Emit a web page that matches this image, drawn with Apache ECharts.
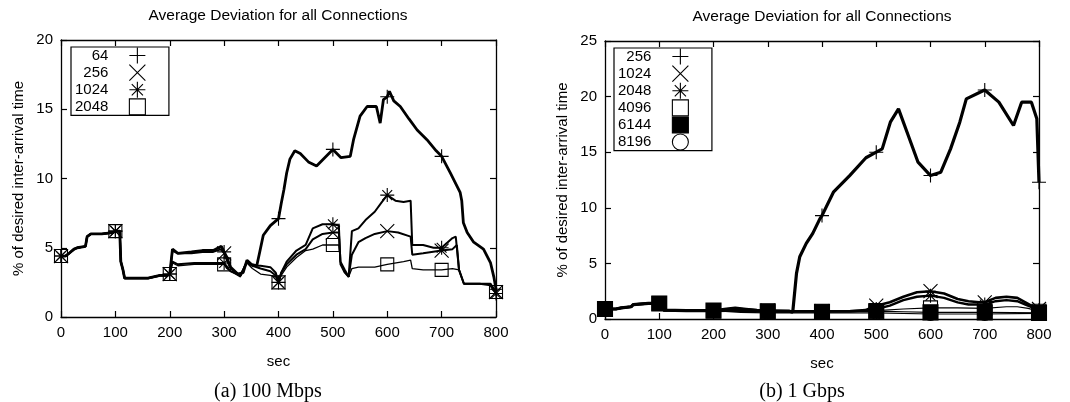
<!DOCTYPE html>
<html><head><meta charset="utf-8">
<script src="https://cdn.jsdelivr.net/npm/echarts@6/dist/echarts.min.js"></script>
<style>html,body{margin:0;padding:0;background:#fff}#c{width:1070px;height:402px}</style>
</head><body><div id="c"></div>
<script>
// ---------- data ----------
const chartTitles = ['Average Deviation for all Connections', 'Average Deviation for all Connections'];
const captions = ['(a) 100 Mbps', '(b) 1 Gbps'];
const xName = 'sec';
const yName = '% of desired inter-arrival time';
const xTicks = [0, 100, 200, 300, 400, 500, 600, 700, 800];
const yTicksA = [0, 5, 10, 15, 20];
const yTicksB = [0, 5, 10, 15, 20, 25];
const namesA = ['64', '256', '1024', '2048'];
const namesB = ['256', '1024', '2048', '4096', '6144', '8196'];

// (a) 100 Mbps: all series share the first 200 s
const startA = [[0,4.4],[8,4.4],[15,4.6],[24,4.9],[30,5.0],[45,5.1],[48,5.8],[55,6.0],[75,6.0],[95,6.1],[100,6.2],[108,6.2],[110,4.0],[114,3.4],[117,2.8],[140,2.8],[160,2.8],[182,3.0],[195,3.0],[200,3.1]];
const a64 = startA.concat([[205,4.9],[215,4.6],[240,4.7],[260,4.8],[280,4.8],[295,5.1],[300,4.7],[305,4.3],[312,3.6],[325,3.1],[335,3.2],[342,4.1],[350,3.8],[360,3.7],[365,4.6],[372,5.9],[385,6.6],[400,7.1],[405,8.2],[410,9.2],[415,10.4],[421,11.4],[430,12.0],[440,11.8],[455,11.2],[470,10.9],[485,11.5],[500,12.1],[515,11.5],[532,11.6],[538,12.8],[550,14.5],[563,15.2],[580,15.2],[587,14.0],[593,15.7],[600,15.9],[604,16.3],[612,15.6],[624,15.2],[640,14.3],[655,13.5],[673,12.8],[690,12.0],[700,11.6],[716,10.4],[734,9.0],[737,8.4],[740,6.8],[747,6.1],[759,5.4],[777,4.9],[790,3.9],[796,2.9],[800,2.0]]);
const a256 = startA.concat([[205,4.8],[215,4.6],[240,4.6],[260,4.7],[280,4.7],[295,4.9],[300,4.6],[305,4.1],[312,3.5],[330,3.0],[342,4.0],[352,3.7],[367,3.7],[385,3.6],[395,3.2],[400,2.5],[405,3.2],[415,3.8],[433,4.5],[450,4.9],[463,5.6],[481,6.0],[500,6.1],[511,6.1],[514,4.0],[522,3.4],[529,2.9],[535,4.5],[547,5.4],[560,5.7],[577,6.0],[600,6.2],[620,6.1],[643,5.8],[646,4.5],[666,4.6],[700,4.8],[720,4.9],[728,5.2],[732,3.4],[741,2.4],[770,2.4],[790,2.4],[800,1.8]]);
const a1024 = startA.concat([[205,4.0],[215,3.8],[245,3.9],[280,3.9],[300,3.9],[305,3.6],[312,3.3],[330,3.0],[342,4.0],[352,3.7],[367,3.5],[385,3.3],[395,3.0],[400,2.5],[405,3.2],[415,4.0],[433,4.8],[450,5.2],[463,6.4],[481,6.7],[500,6.7],[511,6.6],[514,3.8],[522,3.2],[529,2.9],[535,6.2],[547,6.4],[560,7.0],[577,7.6],[590,8.3],[600,8.8],[615,8.4],[630,8.3],[643,8.4],[646,5.2],[666,5.2],[685,5.0],[700,5.0],[720,5.7],[726,5.8],[732,3.4],[741,2.4],[770,2.4],[790,2.3],[800,1.7]]);
const a2048 = startA.concat([[205,3.9],[215,3.7],[245,3.8],[280,3.8],[300,3.8],[305,3.5],[312,3.3],[330,2.9],[342,3.9],[352,3.5],[367,3.1],[385,3.0],[395,2.9],[400,2.5],[405,3.0],[415,3.6],[433,4.3],[450,4.8],[463,4.9],[481,5.2],[500,5.2],[511,5.2],[514,3.9],[522,3.2],[529,2.9],[535,3.5],[547,3.6],[577,3.6],[600,3.8],[630,4.0],[643,4.1],[646,3.5],[666,3.4],[700,3.4],[720,3.5],[732,3.4],[741,2.4],[770,2.4],[790,2.4],[800,1.8]]);

// (b) 1 Gbps: all series share the first 200 s
const startB = [[0,0.9],[20,0.9],[30,1.0],[48,1.1],[52,1.3],[80,1.4],[100,1.4],[105,1.4],[108,0.8],[150,0.75],[200,0.75]];
const b256 = startB.concat([[250,0.8],[300,0.7],[340,0.7],[346,0.6],[353,4.1],[359,5.6],[371,6.8],[383,7.7],[396,9.0],[400,9.3],[421,11.4],[451,12.9],[481,14.5],[500,15.0],[511,15.3],[526,17.7],[541,18.9],[559,16.5],[577,14.1],[600,12.9],[619,13.2],[637,15.3],[654,17.7],[666,19.8],[696,20.5],[700,20.6],[726,19.5],[753,17.4],[768,19.5],[786,19.5],[796,18.0],[800,12.3]]);
const b1024 = startB.concat([[220,0.9],[240,1.0],[260,0.9],[280,0.8],[300,0.75],[340,0.7],[400,0.7],[450,0.7],[480,0.8],[500,1.2],[525,1.5],[550,2.0],[575,2.4],[600,2.5],[625,2.3],[650,1.8],[670,1.6],[690,1.5],[700,1.5],[720,1.9],[740,2.0],[760,1.9],[775,1.5],[790,1.1],[800,0.9]]);
const b2048 = startB.concat([[220,0.85],[240,0.95],[260,0.85],[280,0.8],[300,0.7],[340,0.7],[400,0.7],[450,0.7],[480,0.75],[500,0.9],[525,1.2],[550,1.7],[575,2.0],[600,2.1],[625,1.9],[650,1.5],[670,1.3],[690,1.3],[700,1.3],[720,1.6],[740,1.7],[760,1.6],[775,1.3],[790,1.0],[800,0.8]]);
const b4096 = startB.concat([[250,0.7],[300,0.65],[400,0.65],[480,0.7],[500,0.75],[550,0.9],[600,1.0],[650,1.0],[700,0.95],[740,1.1],[760,1.1],[780,0.95],[800,0.7]]);
const b6144 = startB.concat([[250,0.7],[300,0.7],[400,0.65],[500,0.7],[550,0.65],[600,0.6],[700,0.6],[800,0.55]]);
const b8196 = startB.concat([[250,0.6],[300,0.55],[400,0.55],[500,0.55],[600,0.45],[700,0.45],[800,0.5]]);

// ---------- styling ----------
const SYM = {
  plus: 'path://M0,5H10M5,0V10',
  cross: 'path://M0,0L10,10M10,0L0,10',
  star: 'path://M0,5H10M5,0V10M1.5,1.5L8.5,8.5M8.5,1.5L1.5,8.5',
  box: 'path://M0,0H10V10H0Z',
  fbox: 'rect',
  circ: 'circle'
};
const FONT = "'Liberation Sans', Arial, Helvetica, sans-serif";
const SERIF = "'Liberation Serif', 'Times New Roman', serif";
const BLACK = '#000';
const CLEAR = 'rgba(0,0,0,0)';

const seriesA = [
  { key: 'a', label: namesA[0], data: a64,   sym: SYM.plus,  fill: CLEAR, w: 2.8, size: 14 },
  { key: 'a', label: namesA[1], data: a256,  sym: SYM.cross, fill: CLEAR, w: 2.0, size: 14 },
  { key: 'a', label: namesA[2], data: a1024, sym: SYM.star,  fill: CLEAR, w: 2.0, size: 14 },
  { key: 'a', label: namesA[3], data: a2048, sym: SYM.box,   fill: CLEAR, w: 1.3, size: 13 }
];
const seriesB = [
  { key: 'b', label: namesB[0], data: b256,  sym: SYM.plus,  fill: CLEAR, w: 3.2, size: 14 },
  { key: 'b', label: namesB[1], data: b1024, sym: SYM.cross, fill: CLEAR, w: 2.6, size: 14 },
  { key: 'b', label: namesB[2], data: b2048, sym: SYM.star,  fill: CLEAR, w: 2.4, size: 14 },
  { key: 'b', label: namesB[3], data: b4096, sym: SYM.box,   fill: CLEAR, w: 1.2, size: 14 },
  { key: 'b', label: namesB[4], data: b6144, sym: SYM.fbox,  fill: BLACK, w: 1.2, size: 15 },
  { key: 'b', label: namesB[5], data: b8196, sym: SYM.circ,  fill: CLEAR, w: 1.2, size: 13 }
];

function mkSeries(s, idx) {
  return {
    type: 'line',
    name: s.key + s.label,
    xAxisIndex: idx, yAxisIndex: idx,
    data: s.data,
    symbol: (v) => (xTicks.indexOf(v[0]) >= 0 ? s.sym : 'none'),
    symbolSize: s.size,
    showSymbol: true,
    animation: false,
    silent: true,
    lineStyle: { color: BLACK, width: s.w },
    itemStyle: { color: s.fill, borderColor: BLACK, borderWidth: 1.1 },
    emphasis: { disabled: true }
  };
}

function axisX(gridIndex, pos, labels) {
  return {
    type: 'value', gridIndex, position: pos, min: 0, max: 800, interval: 100,
    name: labels ? xName : '', nameLocation: 'middle', nameGap: 37,
    nameTextStyle: { fontFamily: FONT, fontSize: 15, color: BLACK },
    axisLine: { show: true, onZero: false, lineStyle: { color: BLACK, width: 1.3 } },
    axisTick: { show: true, inside: true, length: 6, lineStyle: { color: BLACK, width: 1.2 } },
    axisLabel: { show: labels, fontFamily: FONT, fontSize: 15, color: BLACK, margin: 8 },
    splitLine: { show: false }
  };
}
function axisY(gridIndex, pos, labels, maxV) {
  return {
    type: 'value', gridIndex, position: pos, min: 0, max: maxV, interval: 5,
    name: labels ? yName : '', nameLocation: 'middle', nameGap: 35,
    nameTextStyle: { fontFamily: FONT, fontSize: 15, color: BLACK },
    axisLine: { show: true, onZero: false, lineStyle: { color: BLACK, width: 1.3 } },
    axisTick: { show: true, inside: true, length: 6, lineStyle: { color: BLACK, width: 1.2 } },
    axisLabel: { show: labels, fontFamily: FONT, fontSize: 15, color: BLACK, margin: 8 },
    splitLine: { show: false }
  };
}

function mkLegend(list, left, top) {
  return {
    orient: 'vertical', left, top,
    padding: [0, 23, 0, 4], itemGap: 0, itemWidth: 16, itemHeight: 16,
    align: 'right', selectedMode: false,
    borderColor: BLACK, borderWidth: 1.2, backgroundColor: '#fff',
    lineStyle: { width: 0 },
    formatter: (n) => '{t|' + n.slice(1) + '}',
    textStyle: {
      color: BLACK, fontFamily: FONT, fontSize: 15,
      rich: { t: { width: 34, align: 'right', padding: [0, 16, 0, 0], fontFamily: FONT, fontSize: 15, color: BLACK } }
    },
    data: list.map(s => ({
      name: s.key + s.label, icon: s.sym,
      itemStyle: { color: s.fill, borderColor: BLACK, borderWidth: 1.1 }
    }))
  };
}

const chart = echarts.init(document.getElementById('c'), null, { renderer: 'canvas' });
chart.setOption({
  backgroundColor: '#fff',
  animation: false,
  title: [
    { text: chartTitles[0], left: 278, top: 8, padding: 0, textAlign: 'center', textStyle: { fontFamily: FONT, fontSize: 15.5, fontWeight: 'normal', color: BLACK } },
    { text: chartTitles[1], left: 822, top: 9, padding: 0, textAlign: 'center', textStyle: { fontFamily: FONT, fontSize: 15.5, fontWeight: 'normal', color: BLACK } },
    { text: captions[0], left: 268, top: 382, padding: 0, textAlign: 'center', textStyle: { fontFamily: SERIF, fontSize: 20, fontWeight: 'normal', color: BLACK } },
    { text: captions[1], left: 802, top: 382, padding: 0, textAlign: 'center', textStyle: { fontFamily: SERIF, fontSize: 20, fontWeight: 'normal', color: BLACK } }
  ],
  grid: [
    { left: 61, right: 574, top: 40, bottom: 85 },
    { left: 605, right: 31, top: 41, bottom: 83 }
  ],
  xAxis: [axisX(0, 'bottom', true), axisX(0, 'top', false), axisX(1, 'bottom', true), axisX(1, 'top', false)],
  yAxis: [axisY(0, 'left', true, 20), axisY(0, 'right', false, 20), axisY(1, 'left', true, 25), axisY(1, 'right', false, 25)],
  legend: [mkLegend(seriesA, 71, 47), mkLegend(seriesB, 614, 48)],
  series: seriesA.map(s => mkSeries(s, 0)).concat(seriesB.map(s => mkSeries(s, 2)))
});
</script>
</body></html>
